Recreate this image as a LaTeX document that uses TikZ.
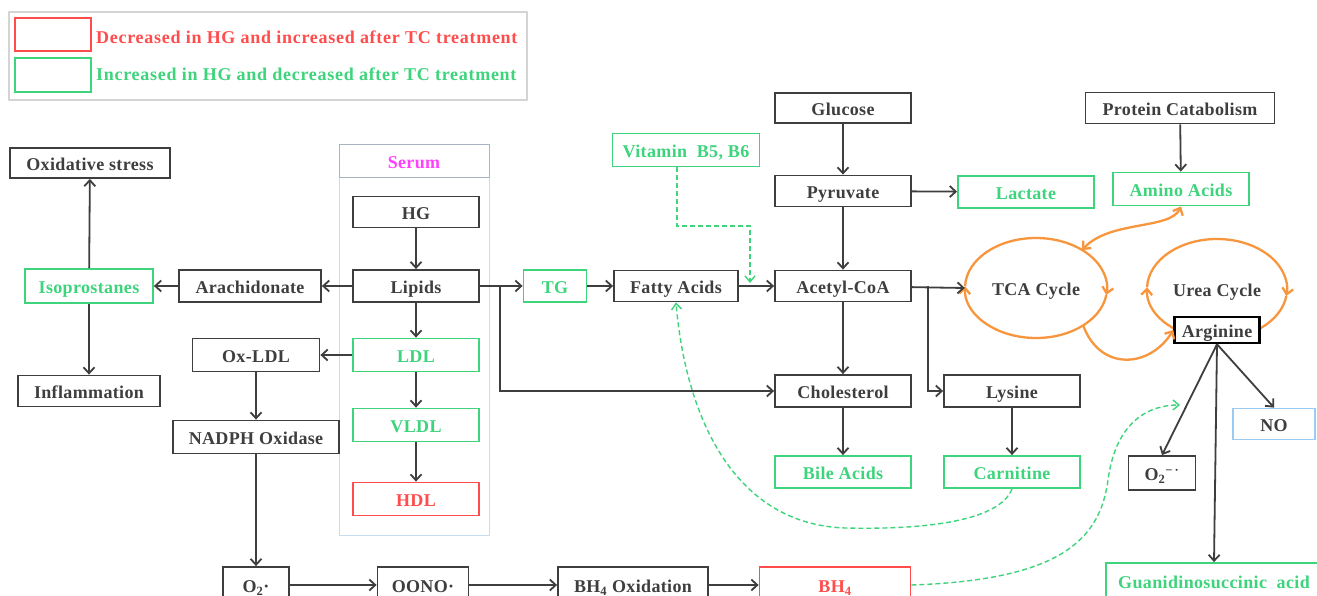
\documentclass[tikz,border=0pt]{standalone}
\usepackage{fontspec}
\setmainfont[LetterSpace=2]{Liberation Serif}
\usetikzlibrary{arrows.meta,shapes.geometric,calc}
\definecolor{dk}{HTML}{3E3E3E}
\definecolor{gr}{HTML}{3DD47C}
\definecolor{rd}{HTML}{FF4C4C}
\definecolor{org}{HTML}{F7963C}
\definecolor{bl}{HTML}{9CCBF2}
\definecolor{mg}{HTML}{FF40FF}
\definecolor{pb}{HTML}{C8DCF0}
\definecolor{ph}{HTML}{A9B4C4}
\definecolor{lg}{HTML}{D4D4D4}
\tikzset{
 base/.style={draw, line width=1.8pt, inner sep=0pt, fill=white, text height=15pt, text depth=0pt, font=\fontsize{18}{20}\selectfont\bfseries},
 wh/.style 2 args={minimum width=#1pt, minimum height=#2pt},
 bk/.style={base, draw=dk, text=dk},
 gn/.style={base, draw=gr, text=gr},
 rdb/.style={base, draw=rd, text=rd},
 blb/.style={base, draw=bl, text=dk},
 cyc/.style={ellipse, inner sep=0pt, text=dk, text height=15pt, text depth=0pt, font=\fontsize{18}{20}\selectfont\bfseries},
 arr/.style={draw=dk, line width=1.8pt, -{Straight Barb[length=6pt,width=11pt]}},
 gd/.style={draw=gr, line width=1.4pt, dash pattern=on 5pt off 3pt, -{Straight Barb[length=6pt,width=10pt]}},
 og/.style={draw=org, line width=2.3pt},
 ogtip/.style={og, -{Straight Barb[length=6pt,width=11pt]}},
 legtext/.style={anchor=west, inner sep=0pt, font=\fontsize{18}{20}\selectfont\bfseries\addfontfeature{LetterSpace=4}},
}
\begin{document}
\begin{tikzpicture}[x=1pt,y=-1pt]
\useasboundingbox (0,0) rectangle (1317,596);
\clip (0,0) rectangle (1317,596);
\fill[white] (0,0) rectangle (1317,596);
% legend
\node[draw=lg, line width=1.5pt, wh={518}{88}, inner sep=0pt] (leg) at (268,56) {};
\node[draw=rd, line width=1.8pt, wh={76}{33}, inner sep=0pt] (swr) at (53,34.5) {};
\node[draw=gr, line width=1.8pt, wh={76}{34}, inner sep=0pt] (swg) at (53,75) {};
\node[legtext, text=rd] (ltr) at (96,37) {Decreased in HG and increased after TC treatment};
\node[legtext, text=gr] (ltg) at (96,74) {Increased in HG and decreased after TC treatment};
% serum panel
\node[draw=pb, line width=1pt, wh={150}{390}, inner sep=0pt] (panel) at (414,340) {};
\node[draw=ph, line width=1pt, wh={150}{33}, inner sep=0pt, text=mg, text height=15pt, text depth=0pt, font=\fontsize{18}{20}\selectfont\bfseries] (serum) at (414,161.5) {Serum};
% nodes
\node[bk, wh={160}{30}] (oxs) at (90,163) {Oxidative stress};
\node[gn, wh={128}{34}] (iso) at (89,286) {Isoprostanes};
\node[bk, wh={142}{31}] (inf) at (89,391) {Inflammation};
\node[bk, wh={142}{32}] (ara) at (250,286) {Arachidonate};
\node[bk, wh={126}{31}] (hg) at (416,212) {HG};
\node[bk, wh={126}{32}] (lip) at (416,286) {Lipids};
\node[gn, wh={126}{33}] (ldl) at (416,355) {LDL};
\node[gn, wh={126}{33}] (vldl) at (416,425) {VLDL};
\node[rdb, wh={126}{33}] (hdl) at (416,499) {HDL};
\node[bk, wh={127}{33}] (oxldl) at (256,355) {Ox-LDL};
\node[bk, wh={166}{33}] (nadph) at (256,437) {NADPH Oxidase};
\node[bk, wh={66}{36}] (o2) at (256,585) {O\textsubscript{2}·};
\node[bk, wh={91}{36}] (oono) at (423,585) {OONO·};
\node[bk, wh={150}{36}] (bhox) at (633,585) {BH\textsubscript{4} Oxidation};
\node[rdb, wh={151}{36}] (bh4) at (835,585) {BH\textsubscript{4}};
\node[gn, wh={63}{32}] (tg) at (555,286) {TG};
\node[bk, wh={124}{31}] (fa) at (676,286) {Fatty Acids};
\node[gn, wh={147}{33}] (vit) at (686,150) {Vitamin\ \ B5, B6};
\node[bk, wh={136}{30}] (glu) at (843,108) {Glucose};
\node[bk, wh={136}{31}] (pyr) at (843,191) {Pyruvate};
\node[gn, wh={136}{32}] (lac) at (1026,192) {Lactate};
\node[bk, wh={136}{31}] (acoa) at (843,286) {Acetyl-CoA};
\node[bk, wh={136}{32}] (chol) at (843,391) {Cholesterol};
\node[gn, wh={136}{32}] (bile) at (843,472) {Bile Acids};
\node[bk, wh={136}{32}] (lys) at (1012,391) {Lysine};
\node[gn, wh={136}{32}] (carn) at (1012,472) {Carnitine};
\node[bk, wh={189}{31}] (prot) at (1180,108) {Protein Catabolism};
\node[gn, wh={136}{33}] (amino) at (1181,189) {Amino Acids};
\node[blb, wh={82}{31}] (no) at (1274,424) {NO};
\node[bk, wh={67}{34}] (o2m) at (1162,473) {O\textsubscript{2}\textsuperscript{−\,·}};
\node[gn, wh={216}{36}] (guan) at (1214,581) {Guanidinosuccinic\ \ acid};
% cycles
\node[cyc, wh={142}{100}] (tca) at (1036,288) {TCA Cycle};
\node[cyc, wh={140}{100}] (urea) at (1217,289) {Urea Cycle};
\draw[ogtip] (tca.center) ++(8:71 and 50) arc[start angle=8, end angle=182, x radius=71, y radius=50];
\draw[ogtip] (tca.center) ++(182:71 and 50) arc[start angle=182, end angle=368, x radius=71, y radius=50];
\draw[ogtip] (urea.center) ++(8:70 and 50) arc[start angle=8, end angle=182, x radius=70, y radius=50];
\draw[ogtip] (urea.center) ++(182:70 and 50) arc[start angle=182, end angle=368, x radius=70, y radius=50];
\node[base, draw=black, line width=2.4pt, text=dk, wh={85}{26}, text height=14pt] (arg) at (1217,330) {Arginine};
% coordinates
\coordinate (br1) at (500,286);
\coordinate (br2) at (928,286);
\coordinate (vk) at (750,226);
\coordinate (vj) at (750,283);
\coordinate (tcaN) at ($(tca.center)+(46,-38)$);
\coordinate (tcaS) at ($(tca.center)+(47,37)$);
\coordinate (carnB) at (845,528);
\coordinate (bhm) at (1108,480);
\coordinate (bht) at (1180,405);
% connectors
\draw[arr] (hg) -- (lip);
\draw[arr] (lip) -- (ara);
\draw[arr] (ara) -- (iso);
\draw[arr] (iso) -- (oxs);
\draw[arr] (iso) -- (inf);
\draw[arr] (lip) -- (ldl);
\draw[arr] (ldl) -- (vldl);
\draw[arr] (vldl) -- (hdl);
\draw[arr] (ldl) -- (oxldl);
\draw[arr] (oxldl) -- (nadph);
\draw[arr] (nadph) -- (o2);
\draw[arr] (o2) -- (oono);
\draw[arr] (oono) -- (bhox);
\draw[arr] (bhox) -- (bh4);
\draw[arr] (lip) -- (tg);
\draw[arr] (br1) |- (chol.west);
\draw[arr] (tg) -- (fa);
\draw[arr] (fa) -- (acoa);
\draw[arr] (glu) -- (pyr);
\draw[arr] (pyr) -- (acoa);
\draw[arr] (pyr) -- (lac);
\draw[arr] (acoa) -- (tca.west);
\draw[arr] (acoa) -- (chol);
\draw[arr] (br2) |- (lys.west);
\draw[arr] (chol) -- (bile);
\draw[arr] (lys) -- (carn);
\draw[arr] (prot) -- (amino);
\draw[arr] (arg.south) -- (o2m.north);
\draw[arr] (arg.south) -- (no.north);
\draw[arr] (arg.south) -- (guan.north);
% dashed green
\draw[gd] ($(vit.south)+(-9,0)$) |- (vk) -- (vj);
\draw[gd] (carn.south) .. controls (1000,520) and (930,530) .. (carnB) .. controls (730,524) and (685,410) .. (fa.south);
\draw[gd] (bh4.east) .. controls (1060,580) and (1100,540) .. (bhm) .. controls (1116,420) and (1150,405) .. (bht);
% orange connectors
\draw[og, {Straight Barb[length=6pt,width=11pt]}-{Straight Barb[length=6pt,width=11pt]}] (tcaN) .. controls (1110,220) and (1170,230) .. (amino.south);
\draw[ogtip] (tcaS) .. controls (1100,372) and (1150,368) .. (arg.west);
\end{tikzpicture}
\end{document}
